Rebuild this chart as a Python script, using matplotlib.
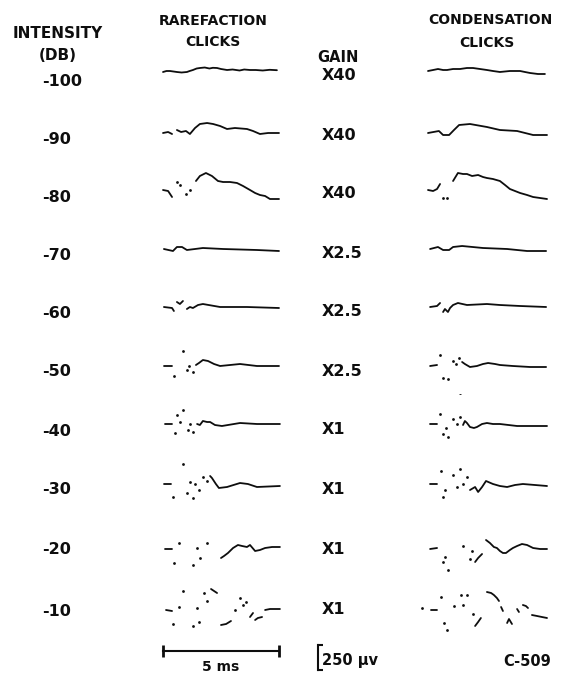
import matplotlib
matplotlib.use("Agg")
import matplotlib.pyplot as plt

W, H = 570, 679

intensity_db = ["-100", "-90", "-80", "-70", "-60", "-50", "-40", "-30", "-20", "-10"]
gain_labels = ["X40", "X40", "X40", "X2.5", "X2.5", "X2.5", "X1", "X1", "X1", "X1"]

# each trace: list of pieces, each piece a list of (time ms, amplitude uV as drawn)
# a piece with one point is an isolated dot of the pen trace
rare_100 = [[(0, -10), (0.15, 0), (0.3, 0), (0.45, -5), (0.6, -10), (0.8, -15), (1.03, -10),
             (1.15, 0), (1.29, 10), (1.45, 25), (1.59, 30), (1.8, 35), (2.0, 25), (2.15, 32),
             (2.33, 30), (2.5, 20), (2.76, 10), (3.0, 15), (3.3, 5), (3.5, 15), (3.75, 10),
             (4.0, 10), (4.3, 5), (4.6, 12), (4.91, 8)]]
rare_90 = [[(0, 0), (0.22, 10), (0.39, -10)],
           [(0.6, 30), (0.78, 10), (0.99, 20), (1.16, -10), (1.38, 50), (1.59, 90), (1.9, 100),
            (2.16, 90), (2.46, 70), (2.76, 40), (3.1, 50), (3.62, 40), (3.88, 20), (4.18, -10),
            (4.53, 0), (5.0, 0)]]
rare_80 = [[(0, 0), (0.22, -10), (0.39, -70)],
           [(0.6, 80)], [(0.73, 50)], [(0.99, -40)], [(1.16, 0)],
           [(1.42, 90), (1.59, 140), (1.85, 170), (2.11, 140), (2.37, 90), (2.59, 80), (2.89, 80),
            (3.19, 70), (3.45, 40), (3.75, 0), (3.97, -30), (4.18, -50), (4.4, -60), (4.61, -90),
            (5.0, -90)]]
rare_70 = [[(0.04, 0), (0.43, -20), (0.6, 20), (0.82, 20), (1.03, -10), (1.38, 0), (1.72, 10),
            (2.59, 0), (4.05, -10), (5.0, -20)]]
rare_60 = [[(0.04, 0), (0.39, -10), (0.47, -40)],
           [(0.6, 50), (0.73, 30), (0.86, 60)],
           [(1.03, -20), (1.16, 0), (1.29, -10), (1.51, 20), (1.72, 30), (2.46, 0), (3.62, 0),
            (5.0, -10)]]
rare_50 = [[(0.04, 0), (0.39, 0)],
           [(0.47, -100)], [(0.86, 150)], [(1.03, -40)], [(1.12, 0)], [(1.29, -60)],
           [(1.42, 10), (1.55, 30), (1.72, 60), (1.94, 50), (2.2, 20), (2.46, 0), (2.89, 10),
            (3.32, 20), (4.05, 0), (5.0, 0)]]
rare_40 = [[(0.09, 0), (0.39, 0)],
           [(0.52, -90)], [(0.6, 90)], [(0.73, 20)], [(0.86, 140)], [(1.08, -60)], [(1.16, 0)],
           [(1.29, -80)],
           [(1.47, 0), (1.59, -10), (1.72, 30), (1.9, 20), (2.03, 20), (2.24, -10), (2.54, -20),
            (3.32, 10), (4.05, 0), (5.04, 0)]]
rare_30 = [[(0.04, 0), (0.34, 0)],
           [(0.43, -130)], [(0.86, 200)], [(1.03, -90)], [(1.16, 20)], [(1.29, -140)],
           [(1.38, 0)], [(1.55, -60)], [(1.72, 70)], [(1.9, 30)],
           [(2.03, 80), (2.11, 60), (2.28, 0), (2.41, -40), (2.76, -30), (3.32, 10), (3.66, 0),
            (4.05, -30), (5.04, -20)]]
rare_20 = [[(0.09, 0), (0.39, 0)],
           [(0.47, -140)], [(0.69, 60)], [(1.29, -160)], [(1.47, 10)], [(1.59, -90)], [(1.9, 60)],
           [(2.5, -90), (2.63, -70), (2.8, -40), (3.02, 10), (3.23, 40), (3.41, 30), (3.62, 20),
            (3.75, 40), (3.97, -20), (4.18, -10), (4.4, 10), (4.7, 20), (5.04, 20)]]
rare_10 = [[(0.13, 0), (0.39, -10)],
           [(0.43, -140)], [(0.69, 30)], [(0.86, 190)], [(1.29, -160)], [(1.47, 20)],
           [(1.55, -120)], [(1.77, 170)], [(1.9, 90)],
           [(2.07, 210), (2.2, 190), (2.33, 170)],
           [(2.5, -150), (2.72, -140), (2.93, -110)],
           [(3.1, 0)], [(3.32, 120)], [(3.45, 50)], [(3.58, 80)],
           [(3.75, -70), (3.88, -30)],
           [(3.97, -100), (4.09, -80), (4.27, -70)],
           [(4.4, 0), (4.61, 10), (5.04, 10)]]

cond_100 = [[(0, 0), (0.22, 10), (0.43, 20), (0.65, 10), (0.82, 10), (1.08, 20), (1.38, 20),
             (1.68, 30), (1.94, 30), (2.24, 20), (2.54, 10), (2.8, 0), (3.1, -10), (3.53, 0),
             (3.97, 0), (4.18, -10), (4.4, -20), (4.74, -30), (5.04, -30)]]
cond_90 = [[(0, 0), (0.47, 20), (0.65, -20), (0.91, -20), (1.12, 30), (1.34, 80), (1.81, 90),
            (2.54, 60), (3.1, 30), (3.84, 20), (4.53, -20), (5.13, -20)]]
cond_80 = [[(0, 0), (0.22, -10), (0.39, 10), (0.52, 60)],
           [(0.65, -80)], [(0.82, -80)],
           [(1.08, 90), (1.29, 170), (1.51, 160), (1.68, 160), (1.9, 140), (2.16, 150),
            (2.37, 130), (2.54, 120), (2.8, 110), (3.1, 90), (3.32, 50), (3.53, 10), (3.75, -10),
            (3.97, -30), (4.27, -50), (4.53, -70), (4.83, -80), (5.13, -90)]]
cond_70 = [[(0.09, 0), (0.43, 20), (0.65, -10), (0.91, -10), (1.08, 20), (1.47, 30), (2.37, 10),
            (3.41, 0), (4.27, -20), (5.09, -20)]]
cond_60 = [[(0.09, 0), (0.39, 10), (0.52, 40)],
           [(0.65, -50), (0.73, -20), (0.86, -50), (0.95, -10), (1.08, 20), (1.29, 40),
            (1.68, 20), (2.54, 30), (3.1, 20), (3.97, 10), (5.09, 0)]]
cond_50 = [[(0.09, 0), (0.39, 10)],
           [(0.52, 110)], [(0.65, -120)], [(0.86, -130)], [(1.08, 50)], [(1.21, 20)], [(1.34, 80)],
           [(1.47, 40), (1.59, 20), (1.81, -10), (2.11, 0), (2.37, 20), (2.59, 30), (2.89, 20),
            (3.1, 10), (3.66, 0), (4.4, -10), (5.09, -10)]]
cond_40 = [[(0.09, 0), (0.39, 0)],
           [(0.52, 100)], [(0.65, -100)], [(0.78, -40)], [(0.86, -130)], [(1.08, 50)],
           [(1.25, 0)], [(1.38, 70)], [(1.38, 310)],
           [(1.51, -10), (1.59, 30), (1.68, 10), (1.81, -30), (1.98, -40), (2.11, -30), (2.33, 0),
            (2.54, 10), (2.8, 0), (3.1, 0), (3.84, -20), (5.13, -20)]]
cond_30 = [[(0.09, 0), (0.39, 0)],
           [(0.56, 130)], [(0.65, -130)], [(0.73, -60)], [(1.08, 90)], [(1.25, -30)],
           [(1.38, 150)], [(1.51, 0)], [(1.68, 70)],
           [(1.81, -60), (2.03, -30), (2.16, -80), (2.33, -30), (2.5, 30), (2.8, 0), (3.1, -20),
            (3.41, -30), (3.75, -10), (4.09, 0), (4.61, -10), (5.13, -20)]]
cond_20 = [[(0.09, 0), (0.39, 10)],
           [(0.65, -130)], [(0.73, -80)], [(0.86, -210)], [(1.51, 30)], [(1.81, -100)],
           [(1.9, -20)],
           [(2.03, -130), (2.16, -90), (2.33, -50)],
           [(2.5, 90), (2.67, 60), (2.84, 20), (2.97, 10), (3.1, -20), (3.23, -40), (3.36, -40),
            (3.53, -10), (3.66, 10), (3.84, 30), (4.05, 50), (4.27, 40), (4.53, 10), (4.83, 0),
            (5.13, 0)]]
cond_10 = [[(0.13, 0), (0.39, 0)],
           [(-0.26, 20)], [(0.56, 130)], [(0.69, -130)], [(0.82, -200)], [(1.12, 40)],
           [(1.42, 150)], [(1.51, 50)], [(1.68, 150)], [(1.94, -40)],
           [(2.03, -160), (2.16, -120), (2.28, -80)],
           [(2.54, 180), (2.72, 170), (2.84, 150), (2.97, 120), (3.06, 90)],
           [(3.15, 30), (3.23, -10)],
           [(3.41, -130), (3.49, -90), (3.62, -140)],
           [(3.84, 10), (3.92, -20)],
           [(4.09, 50), (4.22, 40), (4.31, 20)],
           [(4.48, -50), (4.7, -60), (4.91, -70), (5.13, -80)]]

rarefaction = [rare_100, rare_90, rare_80, rare_70, rare_60,
               rare_50, rare_40, rare_30, rare_20, rare_10]
condensation = [cond_100, cond_90, cond_80, cond_70, cond_60,
                cond_50, cond_40, cond_30, cond_20, cond_10]

time_bar_ms = 5
volt_bar_uv = 250

# layout (pixels)
row_y = [71, 133, 190, 249, 307, 366, 424, 484, 549, 610]
rare_x0, cond_x0 = 163, 428
px_per_ms, px_per_uv = 23.2, 0.1
ink = "#0e0e0e"

fig = plt.figure(figsize=(W / 100, H / 100), dpi=100)
fig.patch.set_facecolor("white")
main = fig.add_axes([0, 0, 1, 1])
main.set_xlim(0, W)
main.set_ylim(H, 0)
main.axis("off")


def trace_axes(x0, y0):
    ax = fig.add_axes([(x0 - px_per_ms) / W, (H - y0 - 300 * px_per_uv) / H,
                       7 * px_per_ms / W, 600 * px_per_uv / H])
    ax.set_xlim(-1, 6)
    ax.set_ylim(-300, 300)
    ax.axis("off")
    ax.patch.set_alpha(0)
    return ax


def draw_trace(ax, pieces):
    for piece in pieces:
        ts = [p[0] for p in piece]
        vs = [p[1] for p in piece]
        if len(piece) == 1:
            ax.plot(ts, vs, "o", ms=2.0, color=ink, mec="none")
        else:
            ax.plot(ts, vs, "-", lw=1.3, color=ink, solid_capstyle="round",
                    solid_joinstyle="round")


for i in range(len(row_y)):
    draw_trace(trace_axes(rare_x0, row_y[i]), rarefaction[i])
    draw_trace(trace_axes(cond_x0, row_y[i]), condensation[i])

txt = dict(family="DejaVu Sans", weight="bold", color=ink)
main.text(58, 33, "INTENSITY", ha="center", va="center", fontsize=11, **txt)
main.text(58, 55, "(DB)", ha="center", va="center", fontsize=11, **txt)
main.text(213, 21, "RAREFACTION", ha="center", va="center", fontsize=10, **txt)
main.text(213, 42, "CLICKS", ha="center", va="center", fontsize=10, **txt)
main.text(338, 57, "GAIN", ha="center", va="center", fontsize=10.5, **txt)
main.text(490, 20, "CONDENSATION", ha="center", va="center", fontsize=10, **txt)
main.text(487, 43, "CLICKS", ha="center", va="center", fontsize=10, **txt)

label_y = [81, 139, 198, 256, 314, 372, 431, 490, 550, 611]
gain_y = [75, 135, 194, 253, 312, 371, 430, 490, 550, 610]
for i in range(len(intensity_db)):
    main.text(42, label_y[i], intensity_db[i], ha="left", va="center", fontsize=11.5, **txt)
    main.text(322, gain_y[i], gain_labels[i], ha="left", va="center", fontsize=11.5, **txt)

# calibration bars
tb = trace_axes(rare_x0, 651)
tb.plot([0, time_bar_ms], [0, 0], "-", lw=1.5, color=ink)
tb.plot([0, time_bar_ms], [0, 0], "|", ms=8, mew=2, color=ink)
main.text(221, 667, "5 ms", ha="center", va="center", fontsize=10, **txt)

vb = trace_axes(318, 670)
vb.plot([0, 0], [0, volt_bar_uv], "-", lw=1.5, color=ink)
vb.plot([0.08, 0.08], [0, volt_bar_uv], "_", ms=4, mew=1.5, color=ink)
main.text(322, 660, "250 \u00b5v", ha="left", va="center", fontsize=10.5, **txt)
main.text(527, 662, "C-509", ha="center", va="center", fontsize=10.5, **txt)

fig.savefig("out.png", dpi=100, facecolor="white")
